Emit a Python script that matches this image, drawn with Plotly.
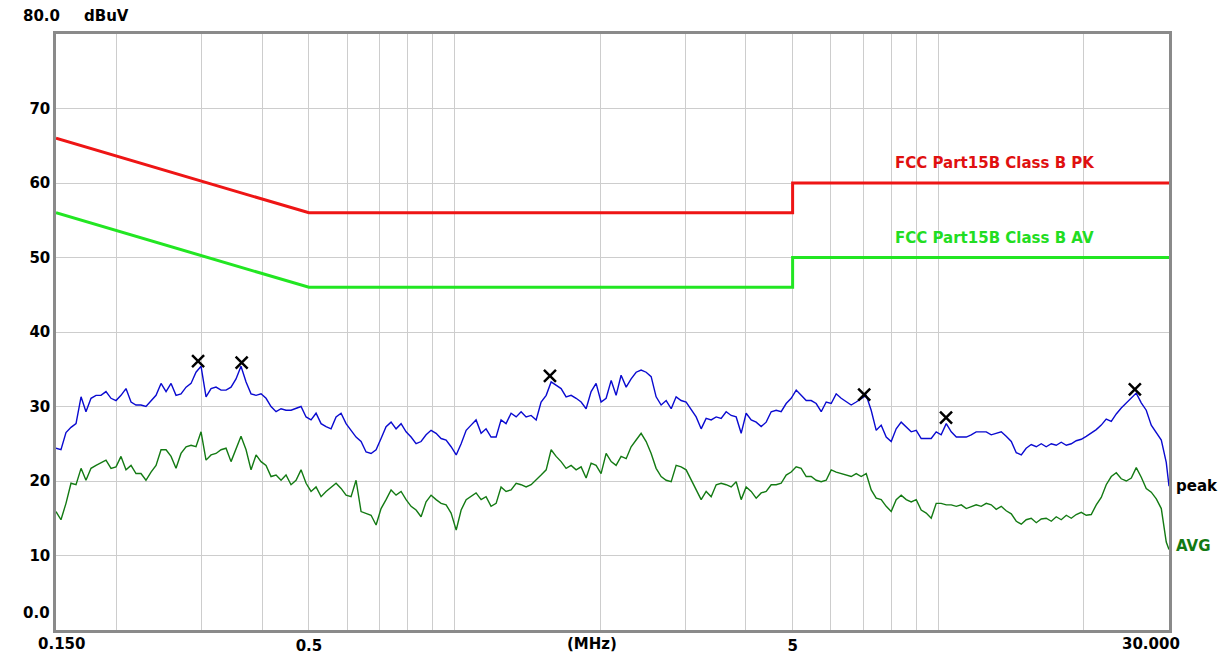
import math
import plotly.graph_objects as go

# ---------------- data ----------------
freq_mhz = [
    0.1500, 0.1536, 0.1573, 0.1611, 0.1650, 0.1690, 0.1730, 0.1772, 0.1815, 0.1858,
    0.1903, 0.1949, 0.1996, 0.2044, 0.2093, 0.2144, 0.2195, 0.2248, 0.2302, 0.2358,
    0.2415, 0.2473, 0.2533, 0.2594, 0.2656, 0.2720, 0.2786, 0.2853, 0.2921, 0.2992,
    0.3064, 0.3138, 0.3213, 0.3291, 0.3370, 0.3451, 0.3534, 0.3619, 0.3707, 0.3796,
    0.3888, 0.3981, 0.4077, 0.4175, 0.4276, 0.4379, 0.4484, 0.4592, 0.4703, 0.4816,
    0.4933, 0.5051, 0.5173, 0.5298, 0.5425, 0.5556, 0.5690, 0.5827, 0.5967, 0.6111,
    0.6258, 0.6409, 0.6564, 0.6722, 0.6884, 0.7049, 0.7219, 0.7393, 0.7571, 0.7754,
    0.7941, 0.8132, 0.8328, 0.8528, 0.8734, 0.8944, 0.9160, 0.9381, 0.9607, 0.9838,
    1.008, 1.032, 1.057, 1.082, 1.108, 1.135, 1.162, 1.190, 1.219, 1.248,
    1.278, 1.309, 1.341, 1.373, 1.406, 1.440, 1.475, 1.510, 1.547, 1.584,
    1.622, 1.661, 1.701, 1.742, 1.784, 1.827, 1.871, 1.916, 1.962, 2.009,
    2.058, 2.108, 2.158, 2.210, 2.264, 2.318, 2.374, 2.431, 2.490, 2.550,
    2.611, 2.674, 2.739, 2.805, 2.872, 2.941, 3.012, 3.085, 3.159, 3.235,
    3.313, 3.393, 3.475, 3.558, 3.644, 3.732, 3.822, 3.914, 4.008, 4.105,
    4.204, 4.305, 4.409, 4.515, 4.624, 4.735, 4.849, 4.966, 5.086, 5.208,
    5.334, 5.462, 5.594, 5.729, 5.867, 6.008, 6.153, 6.301, 6.453, 6.608,
    6.768, 6.931, 7.098, 7.268, 7.444, 7.623, 7.807, 7.995, 8.187, 8.384,
    8.587, 8.794, 9.006, 9.222, 9.445, 9.672, 9.905, 10.14, 10.39, 10.64,
    10.90, 11.16, 11.43, 11.70, 11.98, 12.27, 12.57, 12.87, 13.18, 13.50,
    13.82, 14.16, 14.50, 14.85, 15.20, 15.57, 15.95, 16.33, 16.72, 17.13,
    17.54, 17.96, 18.40, 18.84, 19.29, 19.76, 20.23, 20.72, 21.22, 21.73,
    22.25, 22.79, 23.34, 23.90, 24.48, 25.07, 25.67, 26.29, 26.92, 27.57,
    28.24, 28.92, 29.61, 30.00,
]

peak_dbuv = [
    24.4, 24.2, 26.5, 27.2, 27.7, 31.3, 29.3, 31.1, 31.5, 31.5,
    32.0, 31.1, 30.8, 31.5, 32.4, 30.6, 30.2, 30.2, 30.0, 30.8,
    31.5, 33.1, 32.0, 33.1, 31.5, 31.7, 32.6, 33.1, 34.6, 35.4,
    31.3, 32.4, 32.6, 32.2, 32.2, 32.6, 33.7, 35.4,
    33.3, 31.7, 31.5, 31.7, 31.1, 30.0, 29.3, 29.7, 29.5, 29.5,
    29.7, 30.0, 28.6, 28.2, 29.1, 27.7, 27.3, 27.0, 28.6, 29.1,
    27.7, 26.8, 25.9, 25.3, 23.9, 23.7, 24.2, 25.7, 27.3, 27.9,
    27.0, 27.7, 26.6, 25.9, 25.0, 25.3, 26.2,
    26.8, 26.4, 25.7, 25.5, 24.6, 23.5, 25.0, 26.8, 27.5, 28.2,
    26.4, 27.0, 25.9, 25.9, 28.2, 27.7, 29.1, 28.6, 29.3, 28.6,
    28.8, 28.2, 30.6, 31.5, 33.3, 32.9, 32.4, 31.3, 31.5, 31.1,
    30.6, 29.7, 32.0, 33.1, 30.6, 31.1, 33.5,
    31.5, 34.2, 32.6, 33.7, 34.6, 34.9, 34.6, 34.0, 31.3, 30.2,
    30.8, 29.7, 31.3, 30.8, 30.6, 29.5, 28.6, 27.0, 28.4, 28.2,
    28.6, 28.4, 29.3, 28.8, 28.6, 26.4, 29.1, 28.2, 27.9, 27.3,
    27.9, 29.3, 29.5, 29.3, 30.4, 31.1, 32.2,
    31.5, 30.8, 30.8, 30.4, 29.3, 30.6, 30.4, 31.7, 31.1, 30.6,
    30.2, 30.6, 31.1, 31.5, 29.5, 26.8, 27.5, 25.9, 25.3, 27.0,
    27.9, 27.3, 26.6, 26.8, 25.7, 25.7, 25.7, 26.6, 26.2, 27.7,
    26.6, 25.9, 25.9, 25.9, 26.2, 26.6, 26.6,
    26.6, 26.2, 26.4, 26.6, 26.0, 25.3, 23.8, 23.5, 24.4, 24.9,
    24.6, 25.0, 24.6, 25.0, 24.8, 25.2, 24.8, 25.0, 25.4, 25.6,
    26.0, 26.4, 26.9, 27.5, 28.3, 28.0, 29.0, 29.8, 30.5, 31.2,
    31.8, 30.5, 29.5, 27.5, 26.5, 25.5, 22.5,
    19.3,
]

avg_dbuv = [
    15.9, 14.8, 17.0, 19.7, 19.5, 21.7, 20.1, 21.7, 22.1, 22.4,
    22.8, 21.7, 21.9, 23.3, 21.5, 22.1, 21.0, 21.0, 20.1, 21.2,
    22.1, 24.2, 24.2, 23.3, 21.7, 23.7, 24.6, 24.8, 24.6, 26.6,
    22.8, 23.5, 23.7, 24.2, 24.4, 22.6, 24.4, 26.0,
    24.2, 21.5, 23.5, 22.6, 22.1, 20.6, 20.8, 20.1, 20.8, 19.5,
    20.1, 21.5, 19.7, 18.6, 19.2, 17.9, 18.6, 19.2, 19.7, 19.0,
    18.1, 17.9, 20.1, 15.9, 15.7, 15.4, 14.1, 16.3, 17.5, 18.8,
    18.1, 18.6, 17.5, 16.6, 16.1, 15.2, 17.2,
    18.1, 17.5, 17.0, 16.8, 15.7, 13.4, 16.1, 17.5, 17.9, 18.4,
    17.5, 17.9, 16.6, 17.0, 19.2, 18.6, 18.8, 19.7, 19.5, 19.2,
    19.5, 20.1, 20.8, 21.5, 24.2, 23.3, 22.6, 21.7, 22.1, 21.5,
    21.9, 20.4, 22.4, 22.1, 21.0, 23.7, 22.6,
    22.1, 23.3, 23.0, 24.6, 25.5, 26.4, 25.3, 23.7, 21.7, 20.6,
    20.1, 19.9, 22.1, 21.9, 21.5, 20.1, 18.8, 17.5, 18.6, 17.9,
    19.5, 19.7, 19.5, 19.2, 19.9, 17.5, 19.2, 18.6, 17.7, 18.4,
    18.6, 19.5, 19.5, 19.7, 20.8, 21.2, 21.9,
    21.7, 20.6, 20.6, 20.1, 19.9, 20.1, 21.5, 21.2, 21.0, 20.8,
    20.6, 21.0, 20.6, 21.0, 18.8, 17.7, 17.5, 16.6, 15.9, 17.5,
    18.1, 17.5, 17.2, 17.5, 16.1, 15.7, 15.0, 17.0, 17.0, 16.8,
    16.8, 16.6, 16.8, 16.3, 16.6, 16.8, 16.6,
    17.0, 16.8, 16.2, 16.6, 16.0, 15.6, 14.6, 14.2, 14.8, 15.0,
    14.4, 14.9, 15.0, 14.6, 15.2, 14.8, 15.4, 15.0, 15.5, 15.8,
    15.4, 15.5, 16.8, 17.8, 19.5, 20.6, 21.1, 20.3, 20.0, 20.4,
    21.8, 20.5, 19.0, 18.5, 17.6, 16.3, 11.8,
    10.8,
]

limit_freq = [0.15, 0.5, 5.0, 5.0, 30.0]
limit_pk = [66.0, 56.0, 56.0, 60.0, 60.0]
limit_av = [56.0, 46.0, 46.0, 50.0, 50.0]

marker_freq = [0.295, 0.363, 1.575, 7.03, 10.38, 25.5]
marker_dbuv = [36.1, 35.9, 34.1, 31.6, 28.5, 32.3]

grid_freq = [0.15, 0.2, 0.3, 0.4, 0.5, 0.6, 0.7, 0.8, 0.9, 1, 2, 3, 4, 5,
             6, 7, 8, 9, 10, 20, 30]
x_tick_labels = {0.5: "0.5", 5: "5"}
y_tick_vals = [10, 20, 30, 40, 50, 60, 70]
y_tick_text = ["10", "20", "30", "40", "50", "60", "70"]

# ---------------- figure ----------------
FONT = "DejaVu Sans"
fig = go.Figure()

fig.add_trace(go.Scatter(x=limit_freq, y=limit_pk, mode="lines",
                         line=dict(color="#ee1515", width=3), hoverinfo="skip"))
fig.add_trace(go.Scatter(x=limit_freq, y=limit_av, mode="lines",
                         line=dict(color="#22e622", width=3), hoverinfo="skip"))
fig.add_trace(go.Scatter(x=freq_mhz, y=avg_dbuv, mode="lines",
                         line=dict(color="#137a13", width=1.4)))
fig.add_trace(go.Scatter(x=freq_mhz, y=peak_dbuv, mode="lines",
                         line=dict(color="#0a0ad0", width=1.4)))
fig.add_trace(go.Scatter(x=marker_freq, y=marker_dbuv, mode="markers",
                         marker=dict(symbol="x-thin", size=12, color="black",
                                     line=dict(color="black", width=2.5))))

ticktext = [x_tick_labels.get(v, "") for v in grid_freq]

fig.update_layout(
    width=1223, height=659,
    margin=dict(l=56, r=54, t=34, b=29),
    paper_bgcolor="white", plot_bgcolor="white",
    showlegend=False,
    font=dict(family=FONT, size=15, color="black", weight="bold"),
    xaxis=dict(
        type="log",
        range=[math.log10(0.15), math.log10(30)],
        tickvals=grid_freq, ticktext=ticktext,
        showgrid=True, gridcolor="#cdcdcd", gridwidth=1,
        showline=True, mirror=True, linecolor="#8a8a8a", linewidth=2.5,
        ticks="", zeroline=False, automargin=False,
        tickfont=dict(family=FONT, size=15, color="black", weight="bold"),
    ),
    yaxis=dict(
        range=[0, 80],
        tickvals=y_tick_vals, ticktext=y_tick_text,
        showgrid=True, gridcolor="#cdcdcd", gridwidth=1,
        showline=True, mirror=True, linecolor="#8a8a8a", linewidth=2.5,
        ticks="", zeroline=False, automargin=False,
        tickfont=dict(family=FONT, size=15, color="black", weight="bold"),
    ),
)

def px_x(px):
    return (px - 56) / 1113.0

def px_y(py):
    return (630 - py) / 596.0

ann = [
    dict(text="80.0", x=px_x(41.5), y=px_y(16), color="black", xanchor="center"),
    dict(text="dBuV", x=px_x(106.5), y=px_y(16), color="black", xanchor="center"),
    dict(text="0.0", x=px_x(36), y=px_y(613), color="black", xanchor="center"),
    dict(text="0.150", x=px_x(61.5), y=px_y(644), color="black", xanchor="center"),
    dict(text="(MHz)", x=px_x(592), y=px_y(644), color="black", xanchor="center"),
    dict(text="30.000", x=px_x(1151), y=px_y(644), color="black", xanchor="center"),
    dict(text="FCC Part15B Class B PK", x=px_x(893), y=px_y(163), color="#e01010", xanchor="left"),
    dict(text="FCC Part15B Class B AV", x=px_x(893), y=px_y(238), color="#22dd22", xanchor="left"),
    dict(text="peak", x=px_x(1174), y=px_y(486), color="black", xanchor="left"),
    dict(text="AVG", x=px_x(1174), y=px_y(546), color="#137a13", xanchor="left"),
]
for a in ann:
    fig.add_annotation(text=a["text"], x=a["x"], y=a["y"], xref="paper", yref="paper",
                       xanchor=a["xanchor"], yanchor="middle", showarrow=False,
                       font=dict(family=FONT, size=15, color=a["color"], weight="bold"))

fig.write_html(
    "out.html",
    config={"displayModeBar": False},
    post_script="document.body.style.margin='0px';document.body.style.overflow='hidden';",
)
